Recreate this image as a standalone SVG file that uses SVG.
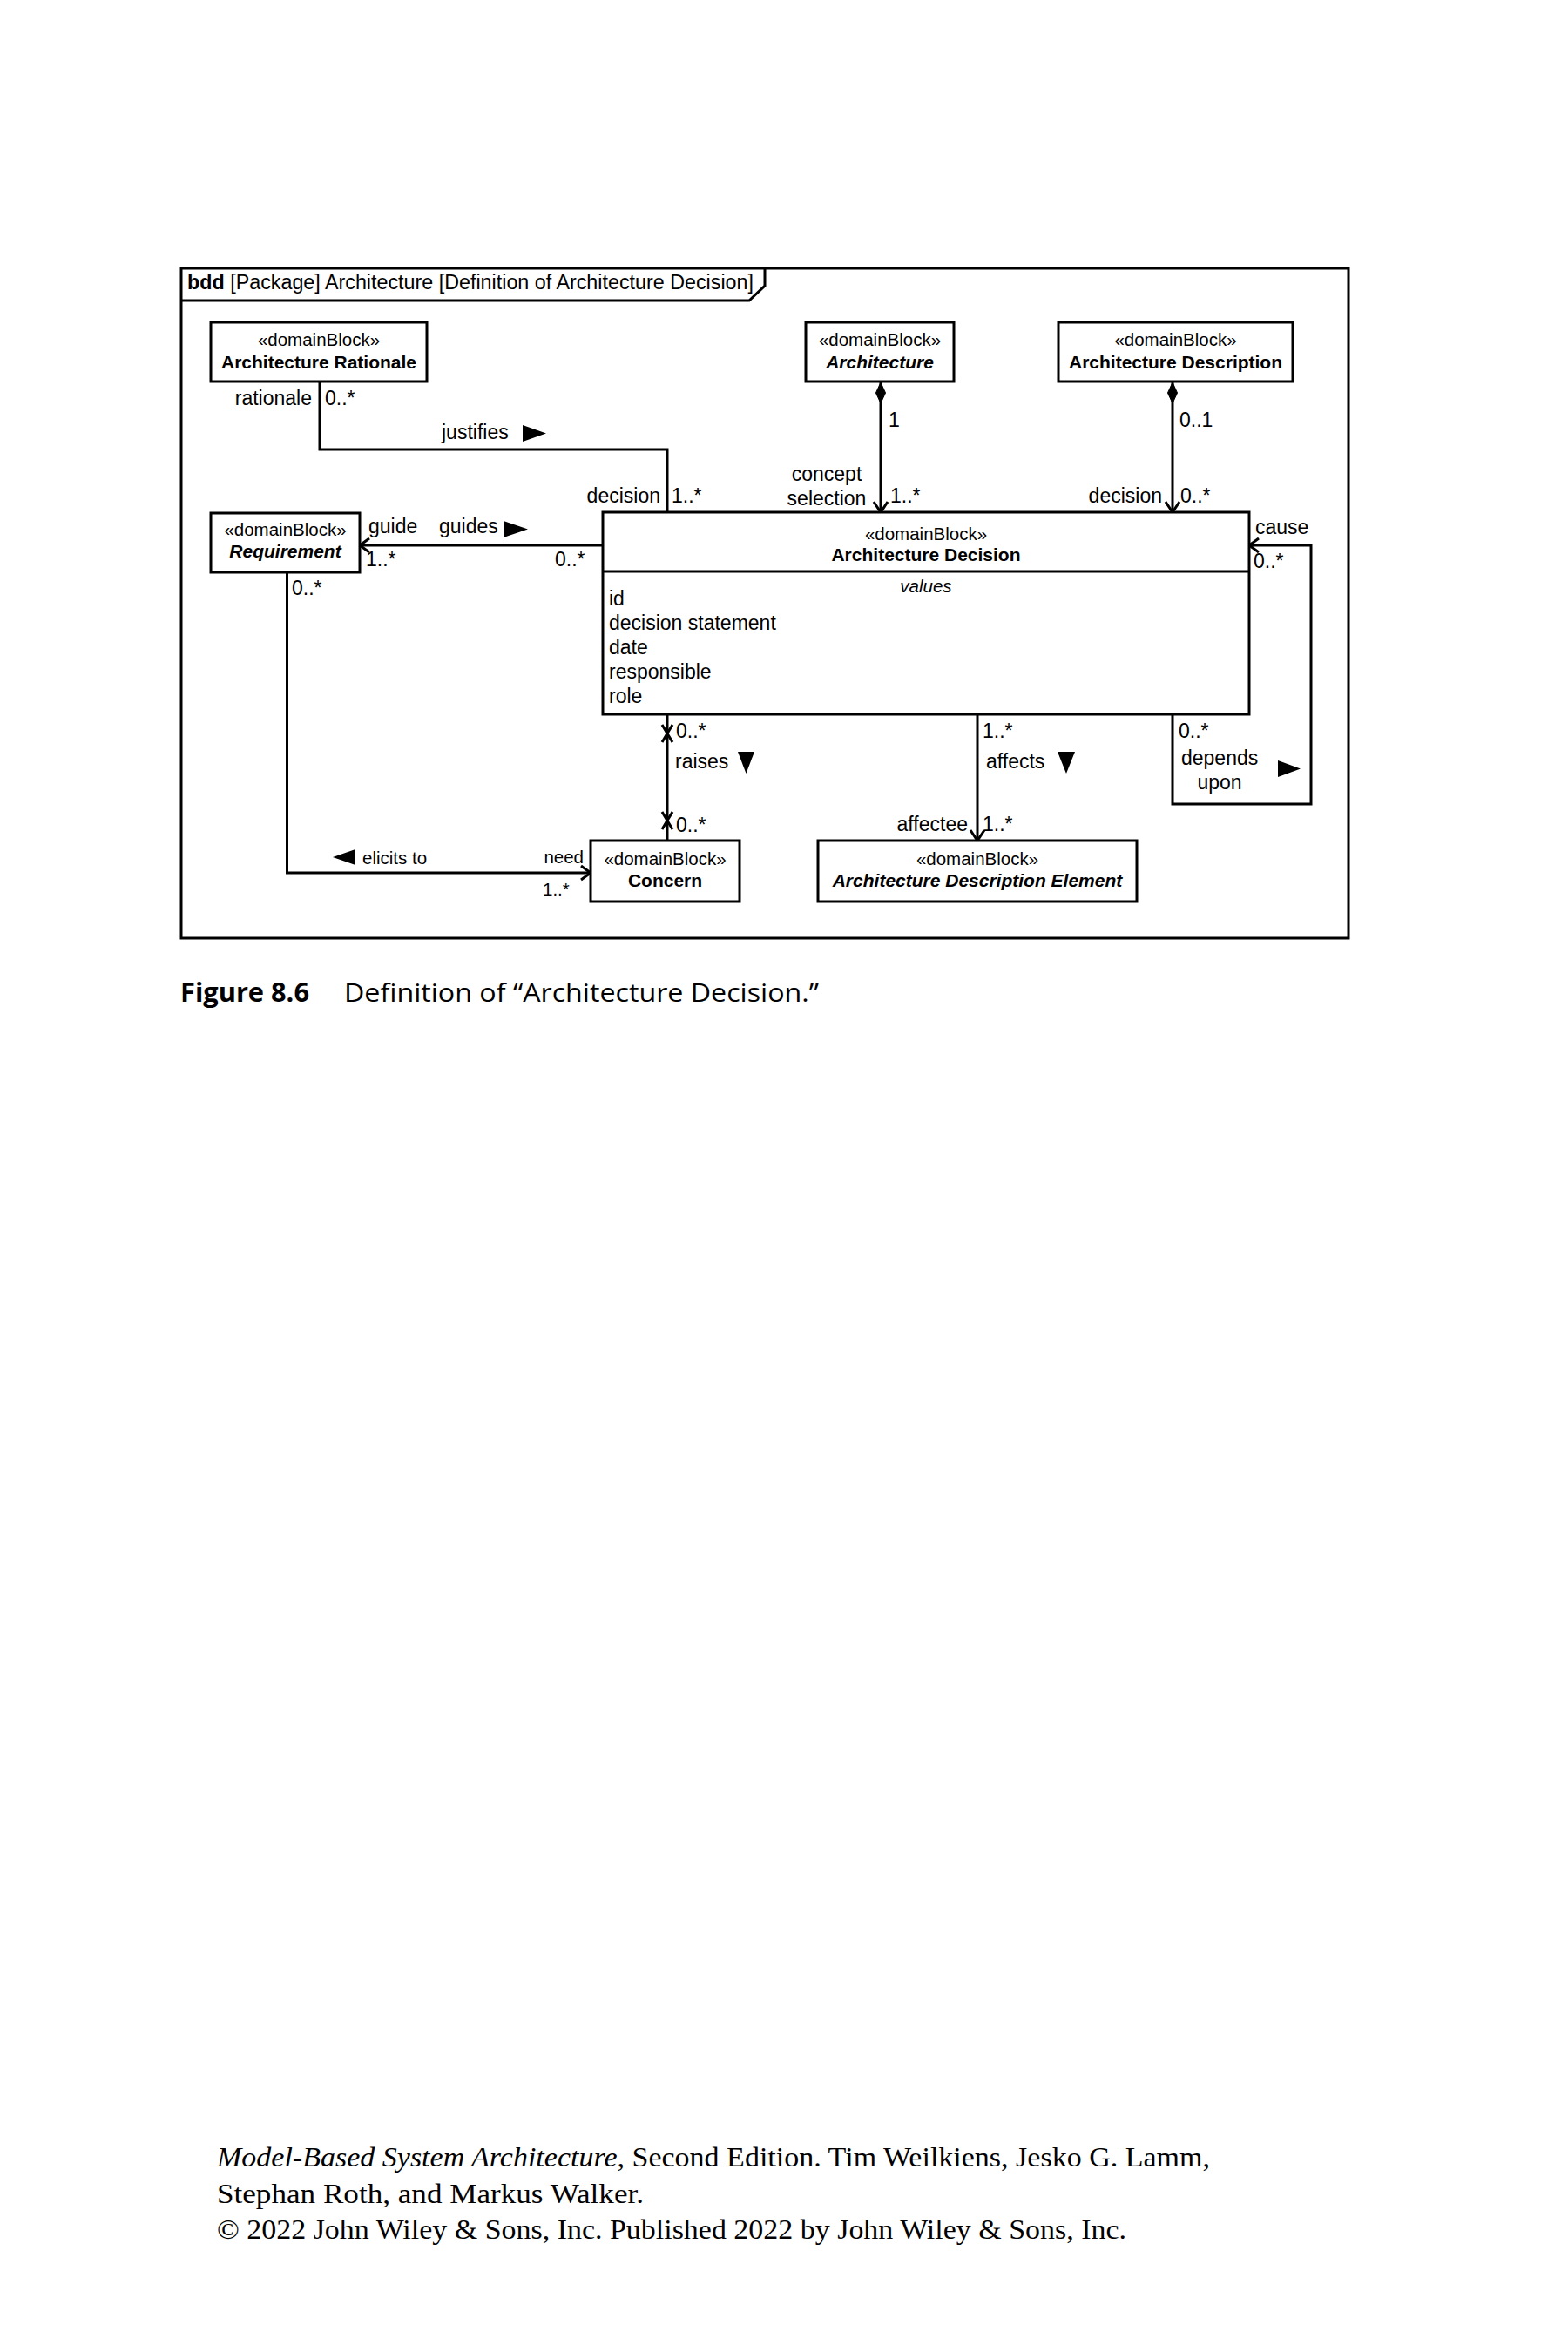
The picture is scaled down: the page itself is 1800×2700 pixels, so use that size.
<svg xmlns="http://www.w3.org/2000/svg" width="1800" height="2700" viewBox="0 0 1800 2700">
<style>
.bg{fill:#fff}
.box{fill:#fff;stroke:#000;stroke-width:3}
.ln{fill:none;stroke:#000;stroke-width:3}
.arr{fill:none;stroke:#000;stroke-width:3;stroke-linejoin:miter}
.tri{fill:#000;stroke:none}
.dia{fill:#000;stroke:#000;stroke-width:1}
text{font-family:"Liberation Sans",Arial,sans-serif;fill:#000}
.lbl{font-size:23px}
.sm{font-size:20.5px}
.st{font-size:20.5px;text-anchor:middle}
.nm{font-size:21px;font-weight:bold;text-anchor:middle}
.it{font-style:italic}
.ttl{font-size:23px}
.cap{font-family:"Open Sans","Liberation Sans",sans-serif;font-size:30px}
.foot{font-family:"Liberation Serif","Times New Roman",serif;font-size:31px}
</style>
<rect class="bg" x="0" y="0" width="1800" height="2700"/>

<g id="frame">
<rect class="ln" x="208" y="308" width="1340" height="769"/>
<path class="ln" d="M208,345 H860 L878,328 V308"/>
<text class="ttl" x="215" y="332" textLength="650" lengthAdjust="spacingAndGlyphs"><tspan font-weight="bold">bdd</tspan> [Package] Architecture [Definition of Architecture Decision]</text>
</g>

<g id="connectors">
<!-- justifies -->
<polyline class="ln" points="367,438 367,516 766,516 766,588"/>
<!-- guides -->
<line class="ln" x1="692" y1="626" x2="413" y2="626"/>
<path class="arr" d="M424,618 L413,626 L424,634"/>
<!-- elicits to -->
<polyline class="ln" points="329.5,657 329.5,1002 678,1002"/>
<path class="arr" d="M667,994 L678,1002 L667,1010"/>
<!-- Architecture composition -->
<line class="ln" x1="1011" y1="438" x2="1011" y2="588"/>
<path class="dia" d="M1011,439 L1016.5,451 L1011,463 L1005.5,451 Z"/>
<path class="arr" d="M1003,576 L1011,588 L1019,576"/>
<!-- Architecture Description composition -->
<line class="ln" x1="1346" y1="438" x2="1346" y2="588"/>
<path class="dia" d="M1346,439 L1351.5,451 L1346,463 L1340.5,451 Z"/>
<path class="arr" d="M1338,576 L1346,588 L1354,576"/>
<!-- depends upon -->
<polyline class="ln" points="1346,820 1346,923 1505,923 1505,626 1434,626"/>
<path class="arr" d="M1445,618 L1434,626 L1445,634"/>
<!-- raises -->
<line class="ln" x1="766" y1="820" x2="766" y2="965"/>
<path class="ln" d="M760,832 L772,852 M772,832 L760,852"/>
<path class="ln" d="M760,932 L772,952 M772,932 L760,952"/>
<!-- affects -->
<line class="ln" x1="1122" y1="820" x2="1122" y2="965"/>
<path class="arr" d="M1114,953 L1122,965 L1130,953"/>

<!-- labels -->
<text class="lbl" x="358" y="465" text-anchor="end">rationale</text>
<text class="lbl" x="373" y="465">0..*</text>
<text class="lbl" x="507" y="504">justifies</text>
<polygon class="tri" points="600,488 627,497.5 600,507"/>
<text class="lbl" x="758" y="577" text-anchor="end">decision</text>
<text class="lbl" x="771" y="577">1..*</text>

<text class="lbl" x="423" y="612">guide</text>
<text class="lbl" x="504" y="612">guides</text>
<polygon class="tri" points="578,598 606,607.5 578,617"/>
<text class="lbl" x="420" y="650">1..*</text>
<text class="lbl" x="637" y="650">0..*</text>

<text class="lbl" x="335" y="683">0..*</text>
<polygon class="tri" points="408,975 382,984 408,993"/>
<text class="sm" x="416" y="992">elicits to</text>
<text class="sm" x="670" y="991" text-anchor="end">need</text>
<text class="sm" x="623" y="1028">1..*</text>

<text class="lbl" x="1020" y="490">1</text>
<text class="lbl" x="949" y="552" text-anchor="middle">concept</text>
<text class="lbl" x="949" y="580" text-anchor="middle">selection</text>
<text class="lbl" x="1022" y="577">1..*</text>

<text class="lbl" x="1354" y="490">0..1</text>
<text class="lbl" x="1334" y="577" text-anchor="end">decision</text>
<text class="lbl" x="1355" y="577">0..*</text>

<text class="lbl" x="1441" y="613">cause</text>
<text class="lbl" x="1439" y="652">0..*</text>
<text class="lbl" x="1353" y="847">0..*</text>
<text class="lbl" x="1356" y="878">depends</text>
<text class="lbl" x="1400" y="906" text-anchor="middle">upon</text>
<polygon class="tri" points="1467,873 1493,882.5 1467,892"/>

<text class="lbl" x="776" y="847">0..*</text>
<text class="lbl" x="775" y="882">raises</text>
<polygon class="tri" points="847,863 866,863 856.5,888"/>
<text class="lbl" x="776" y="955">0..*</text>

<text class="lbl" x="1128" y="847">1..*</text>
<text class="lbl" x="1132" y="882">affects</text>
<polygon class="tri" points="1214,863 1234,863 1224,888"/>
<text class="lbl" x="1111" y="954" text-anchor="end">affectee</text>
<text class="lbl" x="1128" y="954">1..*</text>
</g>

<g id="architecture-rationale">
<rect class="box" x="242" y="370" width="248" height="68"/>
<text class="st" x="366" y="397">«domainBlock»</text>
<text class="nm" x="366" y="423">Architecture Rationale</text>
</g>

<g id="architecture">
<rect class="box" x="925" y="370" width="170" height="68"/>
<text class="st" x="1010" y="397">«domainBlock»</text>
<text class="nm it" x="1010" y="423">Architecture</text>
</g>

<g id="architecture-description">
<rect class="box" x="1215" y="370" width="269" height="68"/>
<text class="st" x="1349.5" y="397">«domainBlock»</text>
<text class="nm" x="1349.5" y="423">Architecture Description</text>
</g>

<g id="requirement">
<rect class="box" x="242" y="589" width="171" height="68"/>
<text class="st" x="327.5" y="615">«domainBlock»</text>
<text class="nm it" x="327.5" y="640">Requirement</text>
</g>

<g id="architecture-decision">
<rect class="box" x="692" y="588" width="742" height="232"/>
<line class="ln" x1="692" y1="656" x2="1434" y2="656"/>
<text class="st" x="1063" y="620">«domainBlock»</text>
<text class="nm" x="1063" y="644">Architecture Decision</text>
<text class="st it" x="1063" y="680">values</text>
<text class="lbl" x="699" y="695">id</text>
<text class="lbl" x="699" y="723">decision statement</text>
<text class="lbl" x="699" y="751">date</text>
<text class="lbl" x="699" y="779">responsible</text>
<text class="lbl" x="699" y="807">role</text>
</g>

<g id="concern">
<rect class="box" x="678" y="965" width="171" height="70"/>
<text class="st" x="763.5" y="993">«domainBlock»</text>
<text class="nm" x="763.5" y="1018">Concern</text>
</g>

<g id="architecture-description-element">
<rect class="box" x="939" y="965" width="366" height="70"/>
<text class="st" x="1122" y="993">«domainBlock»</text>
<text class="nm it" x="1122" y="1018">Architecture Description Element</text>
</g>

<g id="caption">
<text class="cap" x="207" y="1150" font-weight="bold" textLength="148" lengthAdjust="spacingAndGlyphs">Figure 8.6</text>
<text class="cap" x="395" y="1150" textLength="545" lengthAdjust="spacingAndGlyphs">Definition of “Architecture Decision.”</text>
</g>

<g id="footer">
<text class="foot" x="249" y="2487" textLength="1140" lengthAdjust="spacingAndGlyphs"><tspan font-style="italic">Model-Based System Architecture</tspan>, Second Edition. Tim Weilkiens, Jesko G. Lamm,</text>
<text class="foot" x="249" y="2529" textLength="490" lengthAdjust="spacingAndGlyphs">Stephan Roth, and Markus Walker.</text>
<text class="foot" x="249" y="2570" textLength="1044" lengthAdjust="spacingAndGlyphs">© 2022 John Wiley &amp; Sons, Inc. Published 2022 by John Wiley &amp; Sons, Inc.</text>
</g>
</svg>
